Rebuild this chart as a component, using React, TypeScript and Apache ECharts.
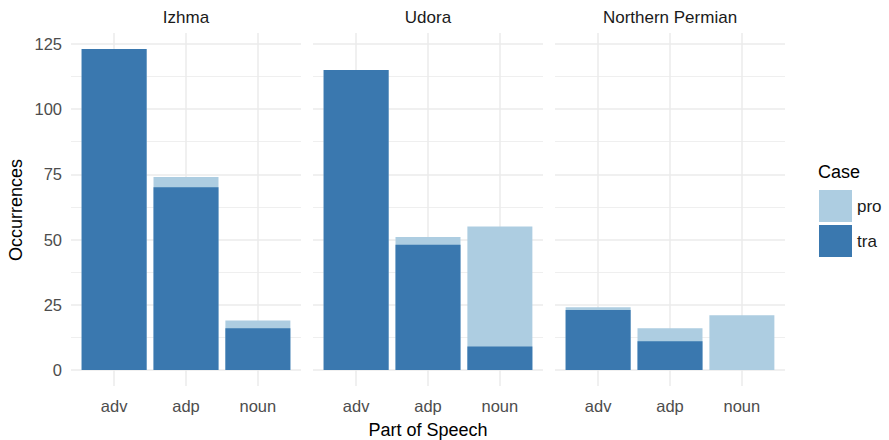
import React, { useEffect, useRef } from "react";
import * as echarts from "echarts";

const panels = ["Izhma", "Udora", "Northern Permian"];
const categories = ["adv", "adp", "noun"];
// values per panel, order: adv, adp, noun
const traValues = [
  [123, 70, 16],
  [115, 48, 9],
  [23, 11, 0],
];
const proValues = [
  [0, 4, 3],
  [0, 3, 46],
  [1, 5, 21],
];
const yTicks = [0, 25, 50, 75, 100, 125];
const yMinorTicks = [12.5, 37.5, 62.5, 87.5, 112.5];
const caseNames = ["pro", "tra"];

const TRA = "#3A78AF";
const PRO = "#ADCDE1";
const GRID = "#EBEBEB";
const FONT = "Liberation Sans, Arial, Helvetica, sans-serif";

export default function App() {
  const ref = useRef<HTMLDivElement>(null);
  useEffect(() => {
    if (!ref.current) return;
    const chart = echarts.init(ref.current, null, { renderer: "svg" });
    const lefts = [71, 313, 555];
    const W = 230;
    const top = 33;
    const H = 353;
    const grids = lefts.map((l) => ({ left: l, top, width: W, height: H }));
    const xAxes = panels.map((_, i) => ({
      type: "value",
      gridIndex: i,
      min: 0.4,
      max: 3.6,
      axisLine: { show: false },
      axisTick: { show: false, customValues: [1, 2, 3] },
      axisLabel: {
        customValues: [1, 2, 3],
        formatter: (v: number) => categories[Math.round(v) - 1],
        fontSize: 16.5,
        color: "#4D4D4D",
        fontFamily: FONT,
        margin: 11,
      },
      splitLine: { show: true, lineStyle: { color: GRID, width: 1.5 } },
    }));
    const yAxes: any[] = [];
    panels.forEach((_, i) => {
      yAxes.push({
        type: "value",
        gridIndex: i,
        min: -6.15,
        max: 129.15,
        axisLine: { show: false },
        axisTick: { show: false, customValues: yTicks },
        axisLabel: {
          show: i === 0,
          customValues: yTicks,
          fontSize: 16.5,
          color: "#4D4D4D",
          fontFamily: FONT,
          margin: 9,
        },
        splitLine: { show: true, lineStyle: { color: GRID, width: 1.5 } },
      });
      yAxes.push({
        type: "value",
        gridIndex: i,
        min: -6.15,
        max: 129.15,
        axisLine: { show: false },
        axisTick: { show: false, customValues: yMinorTicks },
        axisLabel: { show: false, customValues: yMinorTicks },
        splitLine: { show: true, lineStyle: { color: GRID, width: 0.8 } },
      });
    });
    const series: any[] = [];
    panels.forEach((_, i) => {
      // "pro" is stacked on top of "tra": draw the full stack height first, then tra over it
      series.push({
        type: "bar",
        name: "pro",
        xAxisIndex: i,
        yAxisIndex: i * 2,
        barWidth: 65,
        barGap: "-100%",
        itemStyle: { color: PRO },
        data: categories.map((_, j) => [j + 1, traValues[i][j] + proValues[i][j]]),
      });
      series.push({
        type: "bar",
        name: "tra",
        xAxisIndex: i,
        yAxisIndex: i * 2,
        barWidth: 65,
        barGap: "-100%",
        itemStyle: { color: TRA },
        data: categories.map((_, j) => [j + 1, traValues[i][j]]),
      });
    });
    const graphic: any[] = panels.map((p, i) => ({
      type: "text",
      x: lefts[i] + W / 2,
      y: 17,
      style: {
        text: p,
        fontSize: 17,
        fontFamily: FONT,
        fill: "#1A1A1A",
        align: "center",
        verticalAlign: "middle",
      },
    }));
    graphic.push({
      type: "text",
      x: 16,
      y: 210,
      rotation: Math.PI / 2,
      style: {
        text: "Occurrences",
        fontSize: 18,
        fontFamily: FONT,
        fill: "#000",
        align: "center",
        verticalAlign: "middle",
      },
    });
    graphic.push({
      type: "text",
      x: 428,
      y: 430,
      style: {
        text: "Part of Speech",
        fontSize: 18,
        fontFamily: FONT,
        fill: "#000",
        align: "center",
        verticalAlign: "middle",
      },
    });
    graphic.push({
      type: "text",
      x: 818,
      y: 172,
      style: {
        text: "Case",
        fontSize: 18,
        fontFamily: FONT,
        fill: "#000",
        align: "left",
        verticalAlign: "middle",
      },
    });
    chart.setOption({
      animation: false,
      grid: grids,
      xAxis: xAxes,
      yAxis: yAxes,
      series,
      graphic,
      legend: {
        data: caseNames,
        orient: "vertical",
        left: 819,
        top: 190,
        padding: 0,
        itemWidth: 33,
        itemHeight: 32,
        itemGap: 3,
        icon: "rect",
        selectedMode: false,
        textStyle: { fontSize: 17, fontFamily: FONT, color: "#1A1A1A" },
      },
    });
    return () => chart.dispose();
  }, []);
  return (
    <div
      ref={ref}
      style={{ position: "absolute", left: 0, top: 0, width: 889, height: 440, background: "#fff" }}
    />
  );
}
